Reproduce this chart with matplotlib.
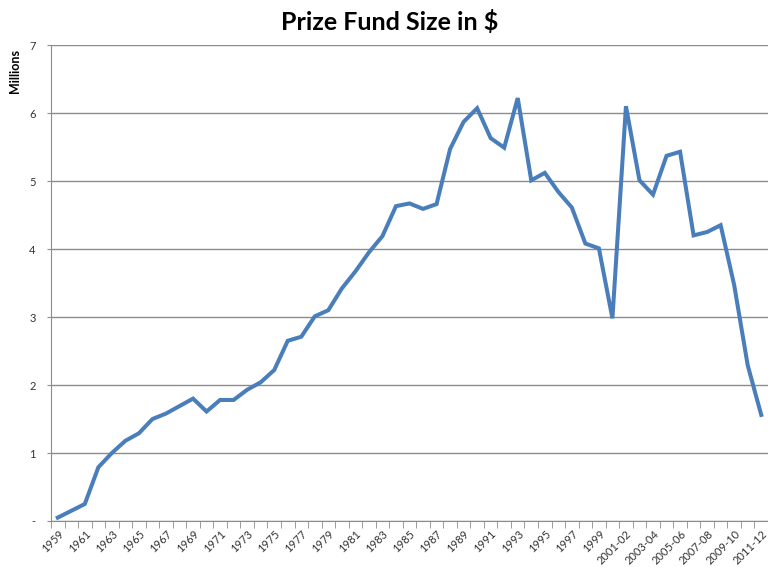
import matplotlib
matplotlib.use("Agg")
import matplotlib.pyplot as plt
from matplotlib.ticker import FixedLocator, FuncFormatter

plt.rcParams['font.family'] = ['Lato', 'DejaVu Sans']

years = [str(y) for y in range(1959, 2001)] + [
    "2001-02", "2002-03", "2003-04", "2004-05", "2005-06", "2006-07",
    "2007-08", "2008-09", "2009-10", "2010-11", "2011-12"]

# prize fund, millions of $
prize = [0.05, 0.15, 0.25, 0.79, 1.00, 1.18, 1.29, 1.50, 1.58, 1.69,
         1.80, 1.61, 1.78, 1.78, 1.93, 2.04, 2.22, 2.65, 2.71, 3.01,
         3.10, 3.42, 3.67, 3.95, 4.19, 4.63, 4.67, 4.59, 4.66, 5.47,
         5.87, 6.07, 5.63, 5.49, 6.22, 5.01, 5.12, 4.84, 4.61, 4.08,
         4.01, 2.98, 6.10, 5.01, 4.80, 5.37, 5.43, 4.20, 4.25, 4.35,
         3.47, 2.29, 1.56]

blue = "#4A7EBB"
grid = "#8C8C8C"

fig = plt.figure(figsize=(7.68, 5.67), dpi=100)
ax = fig.add_axes([51 / 768, 1 - 521 / 567, 717 / 768, 476 / 567])

x = list(range(len(years)))
ax.plot(x, prize, color=blue, linewidth=2.9, solid_joinstyle='miter')

ax.set_xlim(-0.5, len(years) - 0.5)
ax.set_ylim(0, 7)

# y axis
ax.set_yticks(range(0, 8))
ax.yaxis.set_major_formatter(FuncFormatter(lambda v, p: "-" if v == 0 else f"{v:.0f}"))
ax.grid(axis='y', color=grid, linewidth=1)
ax.set_axisbelow(True)
ax.tick_params(axis='y', length=3, color=grid, labelsize=8, pad=8, labelcolor="#333333")

# x axis: ticks between categories, labels on every other category
ax.set_xticks(x[::2])
ax.set_xticklabels(years[::2], rotation=45, ha='right', rotation_mode='anchor')
ax.xaxis.set_minor_locator(FixedLocator([i - 0.5 for i in range(len(years) + 1)]))
ax.tick_params(axis='x', which='major', length=0, labelsize=8, pad=5, labelcolor="#333333")
ax.tick_params(axis='x', which='minor', length=5, color=grid)

for side in ['top', 'right']:
    ax.spines[side].set_visible(False)
ax.spines['left'].set_color(grid)
ax.spines['bottom'].set_color(grid)

fig.text(0.508, 0.962, "Prize Fund Size in $", ha='center', va='center',
         fontsize=18, fontweight='bold')
fig.text(0.019, 0.874, "Millions", rotation=90, ha='center', va='center',
         fontsize=9, fontweight='bold')

plt.savefig("out.png", dpi=100)
